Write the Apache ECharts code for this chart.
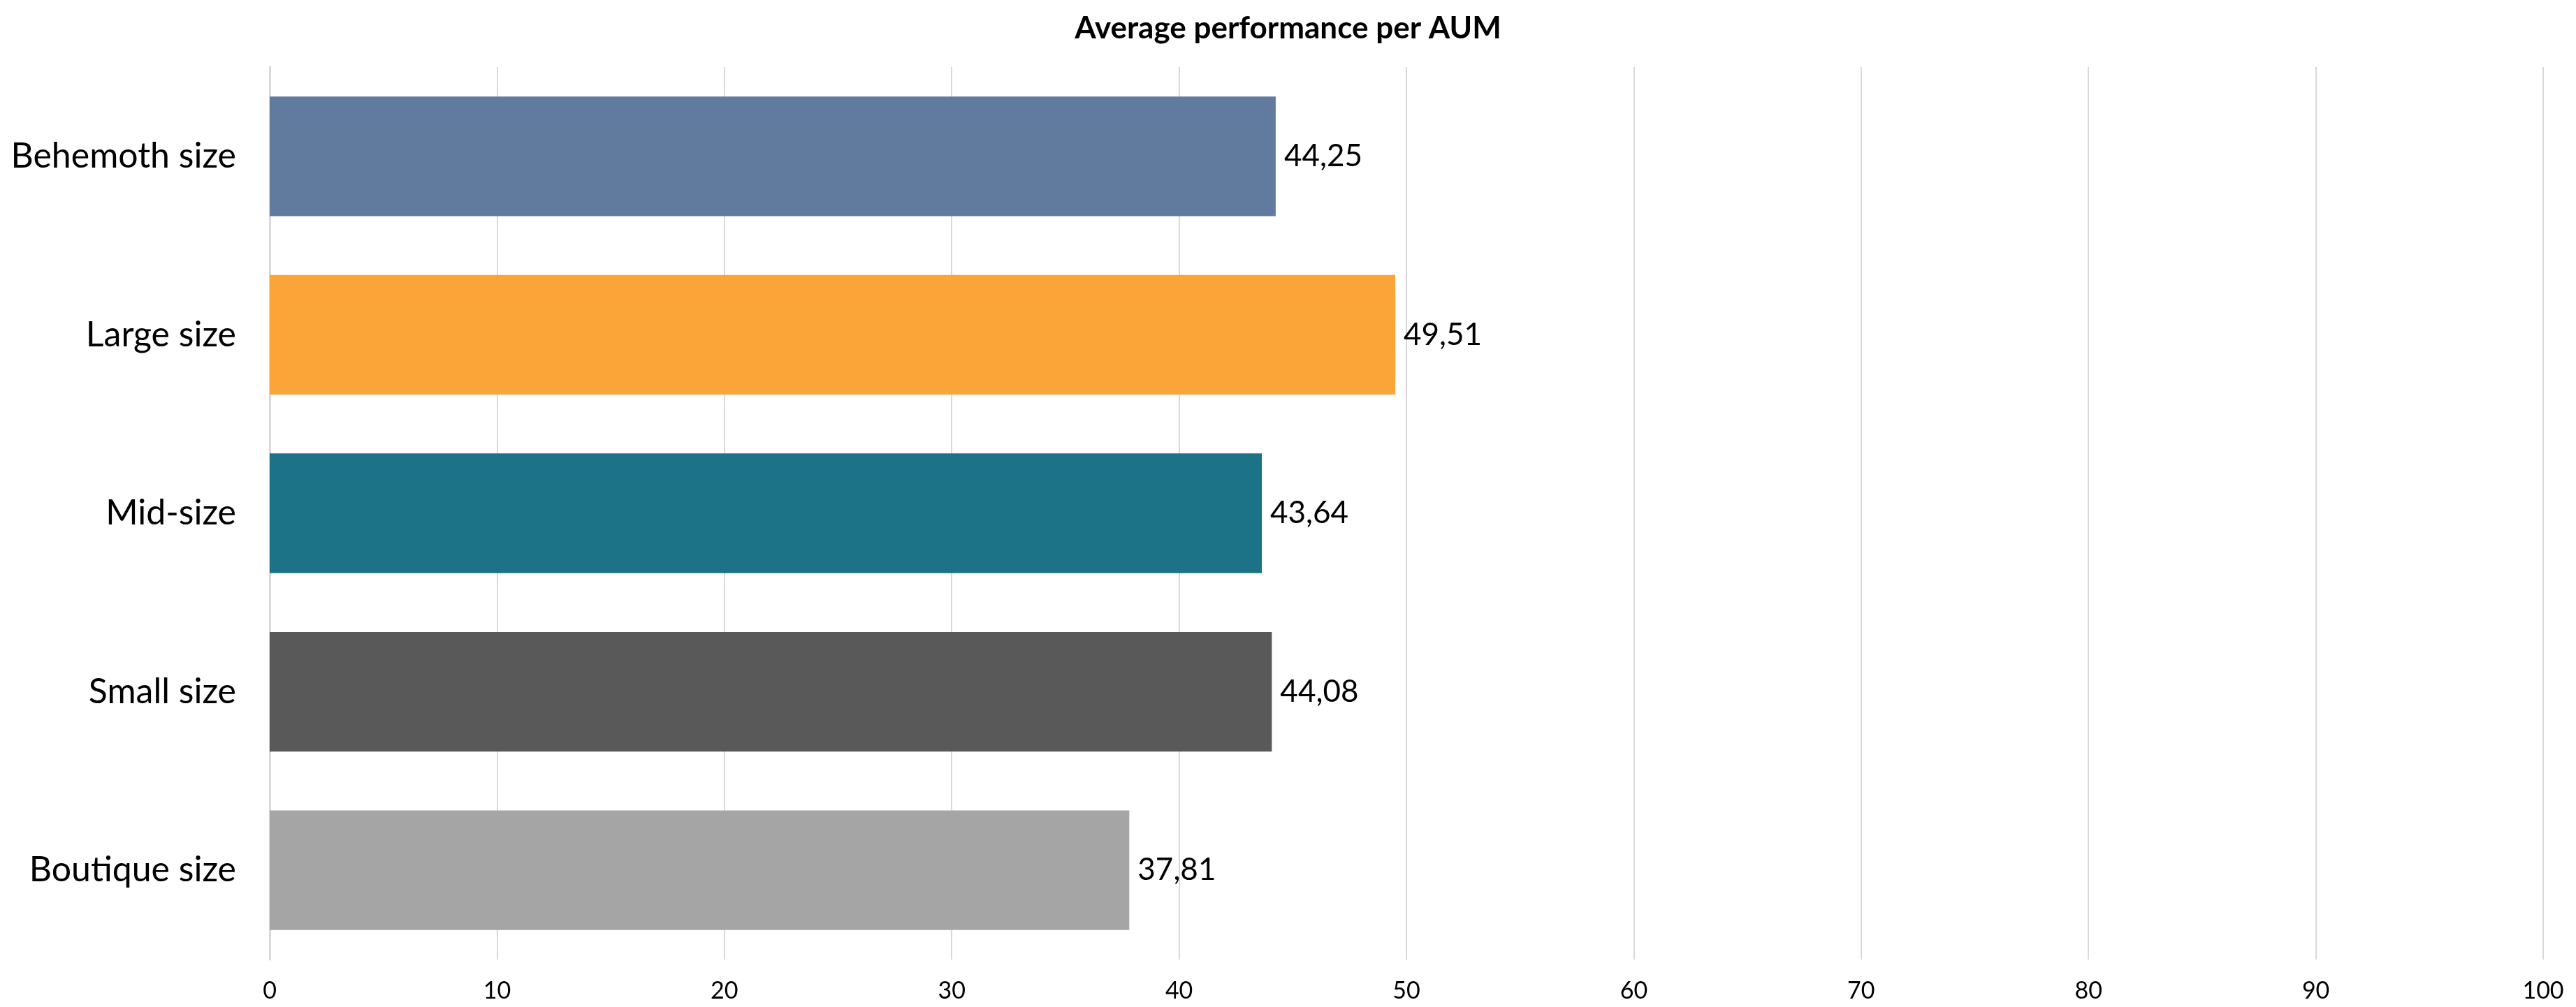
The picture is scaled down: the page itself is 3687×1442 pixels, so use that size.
<!DOCTYPE html>
<html>
<head>
<meta charset="utf-8">
<script src="https://cdn.jsdelivr.net/npm/echarts@6/dist/echarts.min.js"></script>
<style>html,body{margin:0;padding:0;background:#fff}#c{width:3687px;height:1442px}</style>
</head>
<body>
<div id="c"></div>
<script>
const categories = ["Behemoth size", "Large size", "Mid-size", "Small size", "Boutique size"];
const values = [44.25, 49.51, 43.64, 44.08, 37.81];
const barColors = ["#607B9D", "#FBA538", "#1C7387", "#595959", "#A5A5A5"];
const xTicks = [0, 10, 20, 30, 40, 50, 60, 70, 80, 90, 100];
const titleText = "Average performance per AUM";

const FONT = "Lato, 'Open Sans', sans-serif";
const chart = echarts.init(document.getElementById('c'), null, {renderer: 'canvas'});
chart.setOption({
  animation: false,
  backgroundColor: '#ffffff',
  title: {
    text: titleText, left: 'center', top: 14,
    textStyle: {fontFamily: FONT, fontWeight: 'bold', fontSize: 44, color: '#000'}
  },
  grid: {left: 386, right: 47, top: 96, bottom: 68, containLabel: false},
  xAxis: {
    type: 'value', min: xTicks[0], max: xTicks[xTicks.length - 1], interval: 10,
    axisLine: {show: false}, axisTick: {show: false},
    splitLine: {show: true, lineStyle: {color: '#D9D9D9', width: 2}},
    axisLabel: {fontFamily: FONT, fontSize: 34, color: '#000', margin: 28}
  },
  yAxis: {
    type: 'category', data: categories, inverse: true,
    axisLine: {show: true, lineStyle: {color: '#D9D9D9', width: 3}},
    axisTick: {show: false},
    axisLabel: {fontFamily: FONT, fontSize: 50, color: '#000', margin: 48}
  },
  series: [{
    type: 'bar',
    data: values.map((v, i) => ({value: v, itemStyle: {color: barColors[i]}})),
    barCategoryGap: '33%',
    label: {
      show: true, position: 'right', distance: 12,
      fontFamily: FONT, fontSize: 44, color: '#000',
      formatter: p => p.value.toFixed(2).replace('.', ',')
    }
  }]
});
</script>
</body>
</html>
